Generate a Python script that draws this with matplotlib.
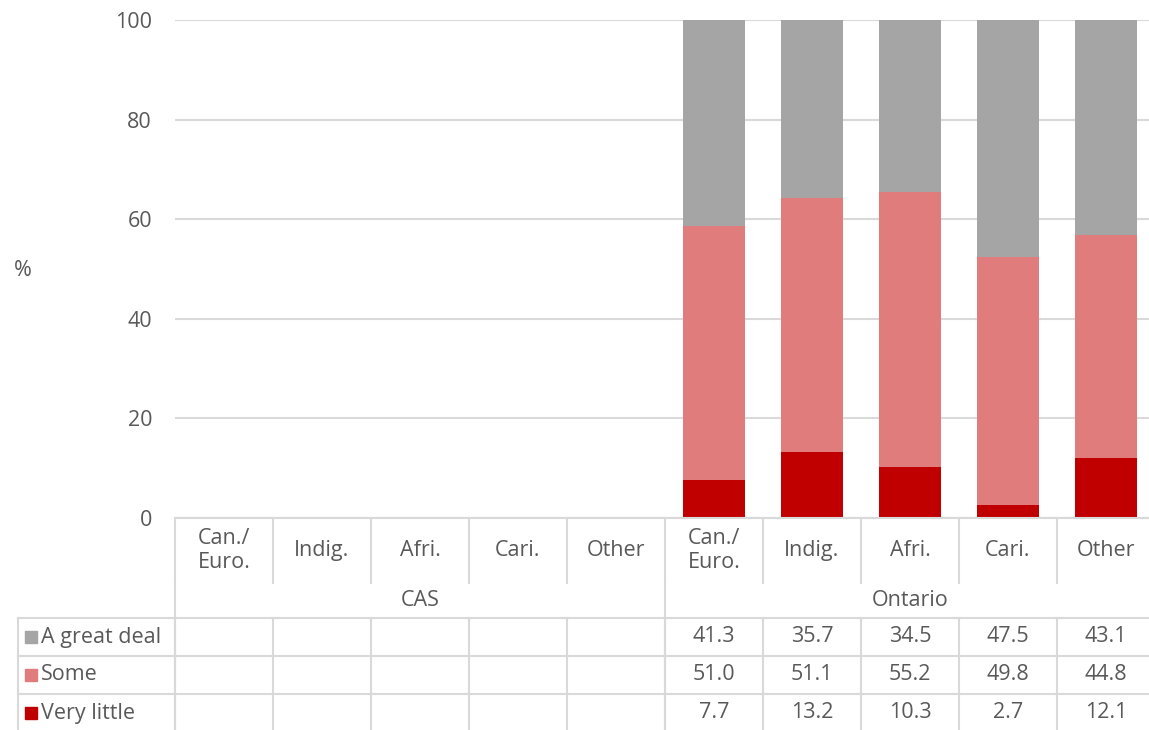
import numpy as np
import matplotlib.pyplot as plt

plt.rcParams['font.family'] = ['Open Sans', 'DejaVu Sans']

groups = ["CAS", "Ontario"]
categories = ["Can./\nEuro.", "Indig.", "Afri.", "Cari.", "Other"]
series = ["A great deal", "Some", "Very little"]
colors = ["#A5A5A5", "#E07C7C", "#C00000"]

# CAS has no data, Ontario values read from table
great_deal = [np.nan] * 5 + [41.3, 35.7, 34.5, 47.5, 43.1]
some = [np.nan] * 5 + [51.0, 51.1, 55.2, 49.8, 44.8]
very_little = [np.nan] * 5 + [7.7, 13.2, 10.3, 2.7, 12.1]

W, H = 1149, 730
txt = "#595959"
line_c = "#D9D9D9"
fs = 15.5

fig = plt.figure(figsize=(W / 100, H / 100), dpi=100)

# main bar axes
ax = fig.add_axes([175 / W, (H - 518) / H, 980 / W, 498 / H])
x = np.arange(10)
vl = np.nan_to_num(very_little)
so = np.nan_to_num(some)
gd = np.nan_to_num(great_deal)
bw = 0.63
ax.bar(x, vl, bw, color=colors[2], zorder=3)
ax.bar(x, so, bw, bottom=vl, color=colors[1], zorder=3)
ax.bar(x, gd, bw, bottom=vl + so, color=colors[0], zorder=3)
ax.set_xlim(-0.5, 9.5)
ax.set_ylim(0, 100)
ax.set_yticks(range(0, 101, 20))
ax.yaxis.grid(True, color=line_c, lw=1.5)
ax.set_axisbelow(True)
ax.set_xticks([])
ax.tick_params(axis='y', length=0, pad=16.5, labelsize=fs, labelcolor=txt)
for s in ax.spines.values():
    s.set_visible(False)
fig.text(14 / W, (H - 270) / H, "%", fontsize=fs, color=txt, ha='left', va='center')

# data table below, y in pixel rows
tab = fig.add_axes([18 / W, 0, (1155 - 18) / W, (H - 518) / H])
left = -0.5 - 157 / 98
tab.set_xlim(left, 9.5)
tab.set_ylim(H, 518)
tab.axis('off')
lw = 1.5
top, r1, r2, bot = 518, 583, 618, H
row_edges = [618, 656, 694, 732]

tab.plot([-0.5, 9.5], [top, top], color=line_c, lw=lw, clip_on=False)
for i in range(10):
    tab.plot([i - 0.5, i - 0.5], [top, r1], color=line_c, lw=lw, clip_on=False)
    tab.text(i, (top + r1) / 2, categories[i % 5], ha='center', va='center',
             fontsize=fs, color=txt, linespacing=1.25)
for i in (-0.5, 4.5):
    tab.plot([i, i], [r1, bot], color=line_c, lw=lw, clip_on=False)
for g, name in enumerate(groups):
    tab.text(2 + 5 * g, (r1 + r2) / 2, name, ha='center', va='center',
             fontsize=fs, color=txt)

for y in row_edges[:-1]:
    tab.plot([left, 9.5], [y, y], color=line_c, lw=lw, clip_on=False)
tab.plot([left, left], [r2, bot], color=line_c, lw=lw, clip_on=False)
for i in range(10):
    tab.plot([i - 0.5, i - 0.5], [r2, bot], color=line_c, lw=lw, clip_on=False)

for k, (name, vals) in enumerate(zip(series, [great_deal, some, very_little])):
    yc = (row_edges[k] + row_edges[k + 1]) / 2
    tab.plot(left + 13 / 98, yc, marker='s', ms=8, color=colors[k], clip_on=False)
    tab.text(left + 23 / 98, yc, name, ha='left', va='center', fontsize=fs, color=txt)
    for i, v in enumerate(vals):
        if not np.isnan(v):
            tab.text(i, yc, f"{v:.1f}", ha='center', va='center', fontsize=fs, color=txt)

fig.savefig("out.png", dpi=100)
